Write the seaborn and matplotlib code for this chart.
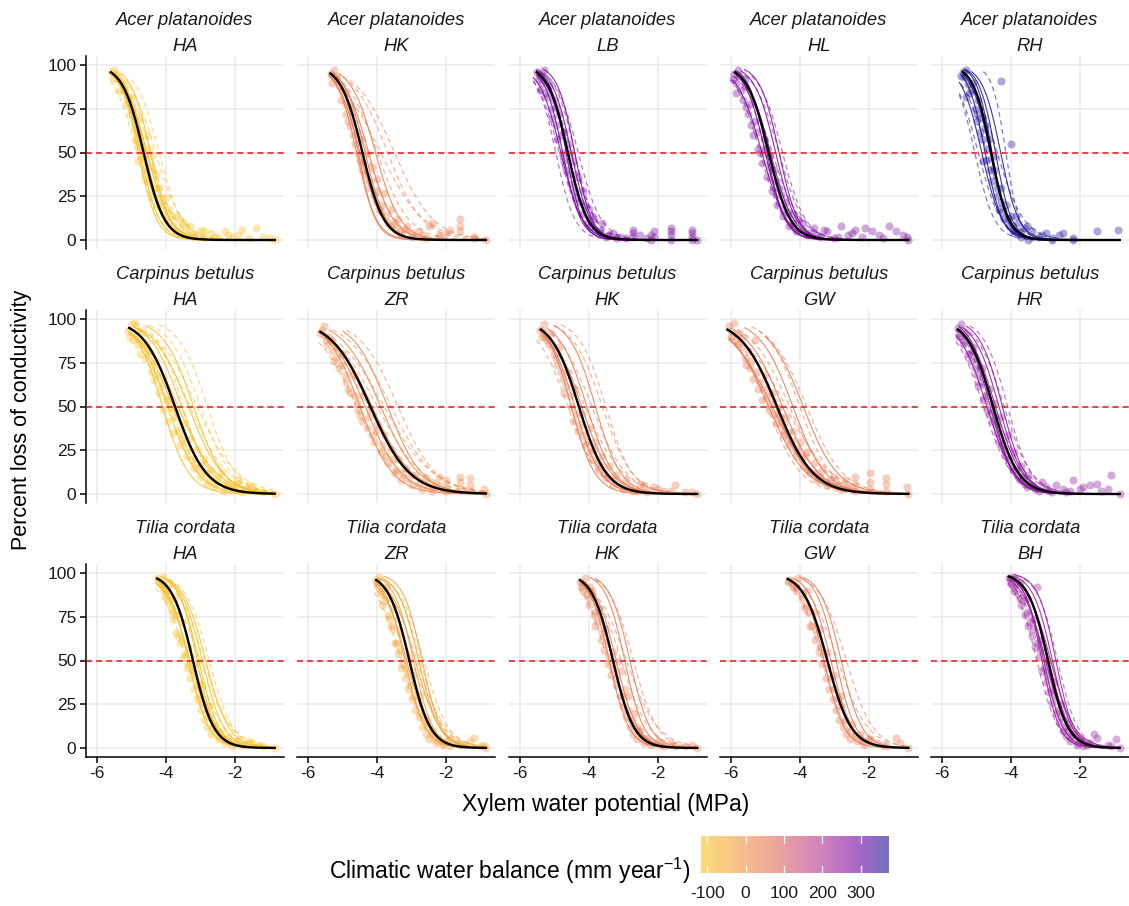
import numpy as np
import pandas as pd
import matplotlib
matplotlib.use("Agg")
import matplotlib.pyplot as plt
import seaborn as sns
from matplotlib.colors import LinearSegmentedColormap, Normalize, to_rgb

# ---------------- data ----------------
SPECIES = ["Acer platanoides"] * 5 + ["Carpinus betulus"] * 5 + ["Tilia cordata"] * 5
SITES = ["HA", "HK", "LB", "HL", "RH",
         "HA", "ZR", "HK", "GW", "HR",
         "HA", "ZR", "HK", "GW", "BH"]
CWB = [-100, 40, 285, 275, 370,
       -100, 20, 45, 50, 255,
       -100, -40, 45, 50, 235]

MEAN_P50 = [-4.65, -4.43, -4.60, -4.90, -4.58,
            -3.74, -4.20, -4.28, -4.66, -4.52,
            -3.22, -3.07, -3.29, -3.20, -2.93]
MEAN_SLOPE = [3.3, 3.2, 3.5, 3.2, 3.9,
              2.2, 1.75, 2.5, 1.9, 2.7,
              3.3, 3.3, 3.3, 2.9, 3.44]
MEAN_START = [-5.60, -5.36, -5.50, -5.88, -5.40,
              -5.07, -5.65, -5.38, -6.10, -5.54,
              -4.26, -4.03, -4.25, -4.35, -4.06]
X_END = -0.85

SOLID_P50 = [
    [-4.75, -4.6, -4.55, -4.7, -4.45, -4.8],
    [-4.6, -4.5, -4.35, -4.25, -4.05, -4.55],
    [-4.75, -4.6, -4.5, -4.8, -4.4, -4.65],
    [-5.0, -4.85, -4.7, -5.1, -4.6, -4.95],
    [-4.75, -4.6, -4.45, -4.3, -4.85, -4.55],
    [-3.95, -3.8, -3.55, -3.35, -4.1, -3.2, -3.65],
    [-4.35, -4.15, -3.9, -3.7, -4.5],
    [-4.4, -4.2, -4.05, -3.8, -4.5],
    [-4.9, -4.7, -4.5, -4.2, -3.9, -4.8],
    [-4.6, -4.45, -4.35, -4.7, -4.25, -4.55],
    [-3.35, -3.2, -3.05, -2.95, -3.3, -3.1, -2.85],
    [-3.2, -3.05, -2.95, -2.8, -3.15, -2.9, -2.7],
    [-3.4, -3.2, -2.95, -2.8, -3.3],
    [-3.3, -3.1, -2.95, -2.8, -3.2],
    [-3.05, -2.9, -2.8, -3.0, -2.7, -3.1, -2.85],
]
SOLID_SLOPE = [
    [3.6, 3.4, 3.0, 3.2, 3.5, 3.8],
    [3.5, 3.0, 3.3, 2.8, 2.8, 4.0],
    [3.8, 3.3, 3.6, 3.2, 4.0, 4.2],
    [3.4, 3.0, 3.3, 2.8, 3.6, 3.8],
    [4.0, 3.6, 4.2, 3.8, 3.4, 4.5],
    [2.3, 2.0, 2.2, 2.0, 2.6, 2.3, 1.8],
    [1.9, 1.7, 1.8, 2.0, 2.1],
    [2.6, 2.3, 2.5, 2.7, 2.9],
    [1.8, 2.0, 1.9, 2.1, 2.0, 1.6],
    [2.9, 2.6, 2.8, 2.5, 3.0, 3.2],
    [3.4, 3.0, 3.4, 3.2, 2.8, 3.7, 3.0],
    [3.4, 3.2, 3.5, 3.3, 2.9, 2.8, 3.6],
    [3.5, 3.2, 3.6, 3.4, 3.0],
    [3.4, 3.2, 3.5, 3.3, 2.9],
    [3.6, 3.3, 3.5, 3.0, 3.8, 3.9, 2.9],
]
SOLID_START = [
    [-5.55, -5.5, -5.45, -5.6, -5.3, -5.5],
    [-5.4, -5.35, -5.3, -5.2, -5.1, -5.3],
    [-5.5, -5.45, -5.4, -5.6, -5.3, -5.5],
    [-5.9, -5.8, -5.7, -5.95, -5.6, -5.85],
    [-5.45, -5.4, -5.3, -5.15, -5.5, -5.35],
    [-5.1, -5.0, -4.95, -4.8, -5.05, -4.6, -5.0],
    [-5.7, -5.6, -5.4, -5.0, -5.7],
    [-5.4, -5.3, -5.2, -5.0, -5.45],
    [-6.05, -5.95, -5.9, -5.6, -5.0, -6.05],
    [-5.55, -5.5, -5.4, -5.6, -5.3, -5.5],
    [-4.3, -4.2, -4.1, -4.0, -4.3, -4.15, -3.95],
    [-4.05, -4.0, -3.95, -3.85, -4.05, -4.0, -3.8],
    [-4.25, -4.15, -3.95, -3.8, -4.2],
    [-4.35, -4.2, -4.0, -3.9, -4.3],
    [-4.1, -4.05, -3.95, -4.1, -3.9, -4.1, -4.0],
]
DASH_P50 = [
    [-4.85, -4.45, -4.3, -4.55, -4.2],
    [-4.0, -3.7, -3.5, -4.3, -3.9],
    [-4.85, -4.4, -4.3, -4.95, -4.5],
    [-5.15, -4.6, -4.5, -4.8, -5.0],
    [-4.15, -4.95, -4.4, -4.7, -5.05],
    [-3.5, -3.0, -3.3, -2.8, -3.9, -3.1],
    [-4.0, -3.6, -4.6, -3.4, -3.8, -4.25],
    [-3.9, -4.6, -3.6, -4.1, -3.5],
    [-4.6, -4.3, -4.0, -4.95, -3.8, -4.4],
    [-4.8, -4.2, -4.5, -4.1, -4.65],
    [-3.4, -2.9, -3.15, -2.75, -3.0],
    [-3.3, -2.85, -2.65, -3.0, -2.75],
    [-3.05, -2.7, -3.45, -2.9],
    [-2.65, -3.35, -2.9],
    [-3.25, -2.65, -3.0],
]
DASH_SLOPE = [
    [3.0, 2.8, 2.6, 2.5, 3.0],
    [2.2, 2.0, 1.8, 2.5, 1.6],
    [3.0, 3.4, 3.0, 3.6, 2.8],
    [2.8, 2.8, 3.0, 2.4, 3.4],
    [5.0, 3.0, 2.6, 2.8, 3.5],
    [2.6, 2.2, 1.8, 2.4, 2.0, 1.7],
    [1.5, 1.6, 1.7, 1.8, 1.4, 1.6],
    [2.0, 2.2, 2.3, 1.8, 2.6],
    [1.7, 1.8, 2.2, 2.0, 1.9, 1.5],
    [2.4, 2.5, 2.1, 2.9, 2.9],
    [2.6, 2.6, 2.4, 2.9, 2.2],
    [2.6, 2.4, 2.8, 2.2, 3.0],
    [2.5, 2.9, 2.8, 2.2],
    [2.6, 2.8, 2.3],
    [3.2, 3.4, 2.6],
]
DASH_START = [
    [-5.6, -5.3, -5.2, -5.5, -5.0],
    [-5.2, -5.0, -4.8, -5.4, -5.1],
    [-5.6, -5.3, -5.2, -5.6, -5.5],
    [-6.0, -5.6, -5.4, -5.9, -5.9],
    [-4.8, -5.5, -5.4, -5.45, -5.5],
    [-4.9, -4.5, -4.8, -4.2, -5.1, -4.7],
    [-5.6, -5.3, -5.7, -4.9, -5.5, -5.65],
    [-5.3, -5.5, -5.0, -5.4, -4.8],
    [-6.0, -5.8, -5.4, -6.05, -5.2, -5.9],
    [-5.6, -5.4, -5.55, -5.2, -5.6],
    [-4.3, -4.1, -4.25, -3.9, -4.2],
    [-4.1, -4.0, -3.8, -4.05, -3.7],
    [-4.1, -3.8, -4.3, -4.05],
    [-3.9, -4.35, -4.1],
    [-4.1, -3.85, -4.1],
]

OBS_X = [
    [-5.6, -5.5, -5.4, -5.3, -5.35, -5.2, -5.15, -5.05, -5.0, -4.9, -4.85, -4.8, -4.75, -4.7, -4.6, -4.55, -4.5, -4.45, -4.4, -4.3, -4.25, -4.2, -4.1, -4.0, -3.95, -3.9, -3.8, -3.7, -3.6, -3.5, -3.4, -3.3, -3.2, -3.0, -2.9, -2.7, -2.5, -2.3, -2.1, -1.9, -1.6, -1.4, -1.0, -0.85],
    [-5.35, -5.25, -5.2, -5.1, -5.05, -4.95, -4.9, -4.8, -4.75, -4.65, -4.6, -4.5, -4.45, -4.35, -4.3, -4.2, -4.15, -4.05, -4.0, -3.9, -3.8, -3.7, -3.6, -3.5, -3.4, -3.3, -3.15, -3.0, -2.8, -2.6, -2.4, -2.2, -1.9, -1.6, -1.6, -1.2, -0.85],
    [-5.5, -5.4, -5.35, -5.3, -5.25, -5.15, -5.1, -5.0, -4.95, -4.9, -4.85, -4.75, -4.7, -4.65, -4.6, -4.5, -4.45, -4.35, -4.3, -4.2, -4.15, -4.0, -3.95, -3.85, -3.7, -3.6, -3.5, -3.3, -3.1, -2.9, -2.7, -2.5, -2.3, -2.1, -2.1, -1.6, -1.6, -1.6, -1.0, -1.0, -0.85],
    [-5.9, -5.85, -5.8, -5.7, -5.65, -5.6, -5.5, -5.45, -5.35, -5.3, -5.2, -5.1, -5.05, -4.95, -4.9, -4.8, -4.75, -4.65, -4.6, -4.5, -4.4, -4.3, -4.2, -4.1, -3.95, -3.8, -3.6, -3.4, -3.2, -3.0, -2.8, -2.6, -2.4, -2.2, -1.9, -1.6, -1.4, -1.0, -0.85],
    [-5.4, -5.35, -5.3, -5.25, -5.2, -5.1, -5.05, -5.0, -4.95, -4.85, -4.8, -4.75, -4.7, -4.6, -4.55, -4.5, -4.4, -4.35, -4.3, -4.2, -4.15, -4.05, -4.0, -3.9, -3.8, -3.7, -3.6, -3.5, -3.4, -3.2, -3.0, -2.8, -2.6, -2.2, -1.5, -0.9, -4.3, -4.0],
    [-5.1, -5.0, -4.95, -4.9, -4.8, -4.7, -4.6, -4.5, -4.45, -4.35, -4.3, -4.2, -4.1, -4.05, -3.95, -3.9, -3.8, -3.7, -3.6, -3.5, -3.4, -3.3, -3.2, -3.1, -3.0, -2.9, -2.8, -2.7, -2.6, -2.5, -2.35, -2.2, -2.05, -1.9, -1.8, -1.6, -1.4, -0.85],
    [-5.65, -5.55, -5.5, -5.4, -5.3, -5.25, -5.1, -5.0, -4.9, -4.8, -4.7, -4.6, -4.5, -4.4, -4.3, -4.2, -4.1, -4.0, -3.9, -3.8, -3.7, -3.6, -3.5, -3.4, -3.3, -3.2, -3.0, -2.9, -2.7, -2.6, -2.4, -2.3, -2.0, -2.0, -1.6, -1.6, -1.3, -1.3, -0.85],
    [-5.4, -5.3, -5.25, -5.15, -5.1, -5.0, -4.9, -4.85, -4.75, -4.7, -4.6, -4.5, -4.45, -4.4, -4.3, -4.2, -4.1, -4.0, -3.9, -3.8, -3.7, -3.6, -3.5, -3.4, -3.3, -3.2, -3.0, -2.9, -2.7, -2.5, -2.3, -2.1, -1.8, -1.5, -1.2, -0.85],
    [-6.05, -6.0, -5.9, -5.85, -5.75, -5.7, -5.6, -5.5, -5.45, -5.35, -5.3, -5.2, -5.1, -5.0, -4.9, -4.8, -4.7, -4.6, -4.5, -4.4, -4.3, -4.2, -4.1, -4.0, -3.9, -3.8, -3.7, -3.6, -3.5, -3.35, -3.2, -3.0, -2.8, -2.7, -2.4, -2.4, -2.4, -1.95, -1.95, -1.95, -1.5, -1.5, -1.5, -0.9, -0.85],
    [-5.55, -5.5, -5.45, -5.4, -5.3, -5.25, -5.15, -5.1, -5.0, -4.95, -4.85, -4.8, -4.7, -4.65, -4.55, -4.5, -4.4, -4.3, -4.25, -4.15, -4.1, -4.0, -3.9, -3.8, -3.7, -3.6, -3.5, -3.3, -3.1, -2.9, -2.7, -2.4, -2.2, -2.0, -1.7, -1.4, -1.1, -0.85],
    [-4.25, -4.15, -4.1, -4.05, -4.0, -3.95, -3.85, -3.8, -3.75, -3.7, -3.6, -3.55, -3.5, -3.4, -3.35, -3.3, -3.2, -3.15, -3.1, -3.0, -2.95, -2.9, -2.8, -2.75, -2.7, -2.6, -2.5, -2.4, -2.3, -2.2, -2.1, -1.9, -1.7, -1.5, -1.2, -0.85],
    [-4.05, -4.0, -3.95, -3.9, -3.8, -3.75, -3.7, -3.6, -3.55, -3.5, -3.4, -3.35, -3.3, -3.2, -3.15, -3.1, -3.0, -2.95, -2.9, -2.8, -2.75, -2.7, -2.6, -2.55, -2.5, -2.4, -2.3, -2.2, -2.1, -2.0, -1.9, -1.7, -1.5, -1.2, -0.9, -0.85],
    [-4.25, -4.2, -4.1, -4.05, -4.0, -3.9, -3.85, -3.8, -3.7, -3.65, -3.55, -3.5, -3.45, -3.35, -3.3, -3.2, -3.1, -3.05, -3.0, -2.9, -2.85, -2.8, -2.7, -2.65, -2.6, -2.5, -2.4, -2.3, -2.2, -2.0, -1.8, -1.6, -1.2, -0.85],
    [-4.3, -4.2, -4.1, -4.05, -3.95, -3.85, -3.8, -3.7, -3.6, -3.55, -3.45, -3.4, -3.35, -3.25, -3.2, -3.15, -3.05, -3.0, -2.95, -2.85, -2.8, -2.75, -2.65, -2.55, -2.5, -2.35, -2.25, -2.15, -1.95, -1.75, -1.5, -1.2, -0.85],
    [-4.05, -4.0, -3.95, -3.9, -3.8, -3.75, -3.7, -3.6, -3.55, -3.5, -3.4, -3.35, -3.3, -3.2, -3.15, -3.1, -3.0, -2.95, -2.9, -2.8, -2.75, -2.7, -2.6, -2.55, -2.5, -2.4, -2.35, -2.3, -2.2, -2.1, -2.0, -1.9, -1.7, -1.5, -1.2, -0.95, -0.85, -3.25],
]
OBS_Y = [
    [96, 97, 94, 91, 85, 88, 78, 72, 82, 64, 55, 45, 70, 52, 40, 60, 33, 48, 26, 38, 20, 30, 15, 24, 10, 18, 8, 14, 5, 10, 3, 8, 2, 6, 1, 4, 2, 5, 2, 3, 1, 7, 1, 0],
    [95, 97, 92, 88, 80, 84, 72, 65, 76, 55, 62, 45, 58, 38, 50, 30, 42, 22, 35, 16, 27, 10, 18, 6, 12, 3, 8, 2, 5, 1, 10, 3, 6, 12, 8, 2, 0],
    [96, 94, 90, 97, 84, 88, 75, 80, 66, 58, 72, 50, 62, 40, 55, 32, 45, 24, 36, 15, 28, 18, 8, 12, 5, 10, 2, 4, 2, 1, 6, 3, 1, 5, 2, 7, 3, 0, 6, 2, 0],
    [95, 90, 97, 86, 80, 92, 72, 78, 60, 68, 52, 44, 58, 36, 48, 28, 40, 20, 30, 14, 22, 8, 15, 5, 10, 3, 7, 2, 5, 1, 8, 3, 6, 2, 5, 1, 8, 3, 0],
    [96, 93, 97, 89, 84, 90, 75, 68, 80, 58, 45, 64, 52, 40, 34, 48, 25, 18, 30, 12, 20, 8, 14, 4, 10, 2, 7, 0, 5, 2, 4, 0, 3, 1, 5, 6, 91, 55],
    [93, 97, 88, 98, 85, 92, 78, 82, 70, 65, 76, 58, 48, 66, 42, 55, 35, 48, 28, 40, 22, 32, 15, 26, 10, 20, 6, 14, 4, 10, 2, 7, 3, 8, 1, 5, 2, 0],
    [92, 96, 88, 90, 82, 76, 72, 80, 64, 58, 68, 52, 45, 56, 38, 48, 30, 40, 24, 34, 18, 26, 12, 20, 8, 15, 5, 11, 3, 9, 2, 6, 4, 8, 3, 7, 5, 2, 0],
    [94, 97, 90, 86, 92, 80, 74, 84, 66, 58, 70, 50, 42, 60, 36, 46, 28, 38, 20, 30, 14, 22, 9, 16, 5, 11, 3, 8, 2, 6, 1, 4, 2, 5, 1, 0],
    [96, 90, 98, 88, 92, 84, 78, 82, 72, 66, 88, 60, 54, 68, 48, 58, 40, 50, 34, 44, 28, 36, 22, 30, 16, 24, 12, 18, 8, 14, 5, 10, 3, 8, 2, 6, 10, 3, 7, 12, 2, 6, 9, 4, 0],
    [95, 90, 97, 86, 92, 80, 76, 84, 68, 62, 72, 54, 48, 60, 42, 52, 35, 44, 28, 22, 34, 16, 24, 10, 16, 6, 11, 3, 7, 2, 5, 1, 8, 3, 5, 2, 11, 0],
    [97, 94, 98, 90, 85, 93, 80, 74, 86, 66, 60, 72, 52, 46, 58, 40, 34, 48, 28, 22, 36, 16, 12, 24, 8, 14, 5, 9, 3, 6, 1, 4, 2, 3, 1, 0],
    [96, 93, 98, 88, 84, 92, 76, 70, 80, 60, 54, 66, 46, 40, 52, 34, 28, 42, 22, 18, 30, 12, 8, 16, 5, 10, 3, 6, 2, 4, 1, 3, 2, 6, 2, 0],
    [95, 92, 97, 88, 82, 90, 76, 70, 80, 62, 56, 68, 48, 42, 55, 36, 30, 44, 24, 18, 30, 12, 8, 20, 5, 10, 3, 6, 2, 4, 1, 3, 1, 0],
    [96, 94, 92, 97, 86, 80, 90, 70, 78, 62, 55, 68, 48, 40, 55, 34, 28, 42, 22, 16, 30, 12, 8, 5, 14, 4, 8, 2, 5, 3, 1, 6, 0],
    [97, 94, 98, 92, 88, 95, 82, 76, 86, 70, 64, 74, 58, 52, 62, 44, 38, 50, 32, 26, 38, 20, 15, 25, 10, 7, 14, 4, 8, 2, 5, 1, 3, 6, 2, 5, 0, 92],
]
OBS_X_EXTRA = [
    [-5.55, -5.45, -5.25, -5.1, -4.95, -4.9, -4.8, -4.65, -4.6, -4.5, -4.4, -4.35, -4.2, -4.1, -4.0, -3.85, -3.75, -3.6, -3.45, -3.3, -3.1, -2.9, -2.6, -2.2, -1.8, -1.2],
    [-5.3, -5.2, -5.0, -4.9, -4.85, -4.7, -4.55, -4.45, -4.4, -4.25, -4.1, -4.0, -3.95, -3.85, -3.75, -3.6, -3.5, -3.35, -3.2, -3.0, -2.7, -2.5, -2.2, -2.0, -1.6, -1.2],
    [-5.45, -5.4, -5.2, -5.05, -4.95, -4.8, -4.7, -4.55, -4.5, -4.4, -4.25, -4.1, -4.05, -3.9, -3.8, -3.65, -3.4, -3.2, -2.7, -2.7, -2.2, -2.2, -1.6, -1.0, -1.0],
    [-5.95, -5.85, -5.75, -5.6, -5.55, -5.4, -5.25, -5.15, -5.0, -4.85, -4.7, -4.55, -4.45, -4.35, -4.2, -4.05, -3.9, -3.7, -3.5, -3.3, -2.9, -2.5, -2.1, -1.7, -1.2, -0.9],
    [-5.45, -5.3, -5.15, -5.0, -4.9, -4.85, -4.7, -4.65, -4.5, -4.4, -4.3, -4.25, -4.1, -3.95, -3.85, -3.7, -3.55, -3.4, -3.1, -2.8, -2.5, -2.2],
    [-5.05, -4.85, -4.75, -4.55, -4.4, -4.25, -4.15, -4.0, -3.85, -3.75, -3.65, -3.55, -3.45, -3.35, -3.25, -3.15, -3.05, -2.95, -2.85, -2.75, -2.55, -2.4, -2.3, -2.1, -1.95, -1.7, -1.5, -1.2],
    [-5.6, -5.45, -5.35, -5.2, -5.05, -4.95, -4.85, -4.65, -4.55, -4.45, -4.25, -4.15, -4.05, -3.85, -3.75, -3.55, -3.45, -3.25, -3.1, -2.8, -2.5, -2.2, -2.0, -1.6, -1.3, -0.9],
    [-5.35, -5.2, -5.05, -4.95, -4.8, -4.65, -4.55, -4.35, -4.25, -4.15, -4.05, -3.95, -3.85, -3.75, -3.65, -3.55, -3.45, -3.25, -3.1, -2.8, -2.6, -2.4, -2.0, -1.6, -1.0],
    [-6.0, -5.8, -5.65, -5.55, -5.4, -5.25, -5.15, -5.05, -4.95, -4.85, -4.75, -4.65, -4.55, -4.45, -4.35, -4.25, -4.15, -4.05, -3.95, -3.85, -3.75, -3.55, -3.4, -3.1, -2.9, -2.6],
    [-5.5, -5.35, -5.2, -5.05, -4.9, -4.75, -4.6, -4.45, -4.35, -4.2, -4.05, -3.95, -3.85, -3.75, -3.65, -3.55, -3.4, -3.2, -3.0, -2.8, -2.5, -2.3, -1.9, -1.5, -1.2],
    [-4.2, -4.1, -4.0, -3.9, -3.8, -3.7, -3.65, -3.55, -3.45, -3.35, -3.25, -3.1, -3.05, -2.95, -2.85, -2.75, -2.65, -2.55, -2.45, -2.35, -2.2, -2.0, -1.8, -1.6, -1.3],
    [-4.0, -3.9, -3.85, -3.7, -3.65, -3.55, -3.45, -3.35, -3.25, -3.15, -3.05, -2.95, -2.85, -2.75, -2.65, -2.55, -2.45, -2.35, -2.25, -2.1, -1.9, -1.6, -1.3, -1.0],
    [-4.2, -4.15, -4.0, -3.95, -3.8, -3.75, -3.6, -3.5, -3.4, -3.3, -3.2, -3.15, -3.0, -2.95, -2.85, -2.75, -2.6, -2.55, -2.45, -2.3, -2.1, -1.9, -1.5, -1.0],
    [-4.35, -4.2, -4.1, -3.95, -3.85, -3.75, -3.65, -3.5, -3.4, -3.3, -3.2, -3.1, -3.0, -2.9, -2.8, -2.7, -2.55, -2.4, -2.2, -2.0, -1.6, -1.1],
    [-4.0, -3.9, -3.85, -3.75, -3.65, -3.55, -3.45, -3.35, -3.25, -3.15, -3.05, -2.95, -2.85, -2.75, -2.65, -2.55, -2.45, -2.35, -2.25, -2.05, -1.8, -1.6, -1.1],
]
OBS_Y_EXTRA = [
    [92, 95, 86, 80, 75, 58, 62, 48, 35, 52, 42, 30, 24, 20, 12, 14, 6, 12, 8, 4, 3, 5, 2, 3, 6, 2],
    [90, 94, 86, 78, 68, 60, 50, 40, 44, 34, 26, 28, 18, 20, 14, 8, 10, 5, 6, 4, 3, 8, 2, 4, 5, 1],
    [92, 86, 82, 70, 76, 60, 45, 50, 38, 28, 22, 20, 10, 14, 6, 4, 3, 1, 2, 4, 3, 0, 5, 4, 0],
    [92, 84, 94, 88, 76, 66, 62, 50, 52, 42, 34, 26, 18, 16, 10, 12, 6, 4, 3, 6, 2, 4, 7, 3, 5, 2],
    [94, 82, 86, 72, 62, 70, 46, 58, 40, 30, 22, 16, 12, 6, 14, 5, 8, 2, 3, 1, 4, 0],
    [90, 94, 80, 86, 74, 68, 62, 54, 50, 44, 36, 32, 30, 26, 20, 18, 14, 16, 12, 8, 6, 12, 5, 4, 6, 3, 4, 1],
    [94, 85, 88, 78, 74, 68, 60, 56, 48, 42, 44, 34, 36, 28, 22, 20, 14, 12, 9, 6, 4, 10, 2, 10, 9, 3],
    [90, 88, 84, 78, 70, 62, 56, 46, 40, 34, 30, 24, 26, 18, 16, 12, 10, 8, 5, 4, 2, 5, 3, 2, 1],
    [93, 86, 90, 74, 76, 70, 64, 60, 56, 52, 46, 44, 40, 36, 32, 30, 26, 24, 20, 22, 14, 12, 10, 8, 5, 4],
    [92, 88, 80, 72, 64, 56, 46, 40, 30, 26, 20, 14, 14, 8, 10, 4, 5, 2, 4, 1, 3, 2, 4, 6, 3],
    [95, 92, 88, 84, 78, 76, 64, 62, 54, 48, 44, 36, 30, 26, 20, 18, 12, 10, 7, 5, 4, 3, 2, 4, 2],
    [95, 90, 82, 86, 74, 68, 60, 56, 48, 44, 36, 30, 26, 20, 16, 12, 8, 6, 4, 3, 5, 2, 4, 1],
    [94, 90, 86, 92, 78, 72, 66, 60, 52, 46, 40, 50, 30, 34, 22, 16, 12, 10, 6, 4, 3, 2, 1, 2],
    [95, 92, 90, 88, 82, 78, 70, 66, 58, 54, 46, 40, 34, 28, 24, 16, 10, 7, 4, 5, 2, 3],
    [96, 90, 94, 86, 84, 78, 72, 68, 60, 56, 46, 42, 34, 30, 22, 18, 12, 10, 6, 3, 2, 8, 1],
]

# colour scale (value -> colour)
CMAP_VALUES = [-116, 0, 100, 200, 300, 374]
CMAP_COLORS = ["#F8C51E", "#F38E43", "#D96161", "#AF2F96", "#6E00A3", "#171196"]
CB_TICKS = [-100, 0, 100, 200, 300]

# ---------------- helpers ----------------
vmin, vmax = CMAP_VALUES[0], CMAP_VALUES[-1]
cmap = LinearSegmentedColormap.from_list(
    "cwb", [((v - vmin) / (vmax - vmin), c) for v, c in zip(CMAP_VALUES, CMAP_COLORS)])
norm = Normalize(vmin, vmax)


def plc(x, p50, a):
    return 100.0 / (1.0 + np.exp(a * (x - p50)))


def curve_frame(p50s, slopes, starts):
    rows = []
    for k, (p, a, s) in enumerate(zip(p50s, slopes, starts)):
        xs = np.linspace(s, X_END, 120)
        rows.append(pd.DataFrame({"curve": k, "x": xs, "y": plc(xs, p, a)}))
    return pd.concat(rows, ignore_index=True)


W, H = 1129, 906
fig = plt.figure(figsize=(W / 100, H / 100), dpi=100)
FONT = "Liberation Sans"
plt.rcParams["font.family"] = FONT
plt.rcParams["mathtext.fontset"] = "custom"
plt.rcParams["mathtext.rm"] = FONT


def px_axes(left, top, width, height):
    return fig.add_axes([left / W, 1 - (top + height) / H, width / W, height / H])


LEFTS = [86 + 211.25 * c for c in range(5)]
TOPS = [56.25, 310.25, 564.25]
PW, PH = 198, 192.5

for i in range(15):
    r, c = divmod(i, 5)
    ax = px_axes(LEFTS[c], TOPS[r], PW, PH)
    col = cmap(norm(CWB[i]))

    obs = pd.DataFrame({"x": OBS_X[i] + OBS_X_EXTRA[i], "y": OBS_Y[i] + OBS_Y_EXTRA[i]})
    sns.scatterplot(data=obs, x="x", y="y", color=col, alpha=0.36, s=34,
                    linewidth=0, ax=ax, zorder=2)

    dsh = curve_frame(DASH_P50[i], DASH_SLOPE[i], DASH_START[i])
    sns.lineplot(data=dsh, x="x", y="y", units="curve", estimator=None,
                 color=col, alpha=0.55, lw=0.9, linestyle=(0, (4, 3)), ax=ax, zorder=3)
    sol = curve_frame(SOLID_P50[i], SOLID_SLOPE[i], SOLID_START[i])
    sns.lineplot(data=sol, x="x", y="y", units="curve", estimator=None,
                 color=col, alpha=0.85, lw=0.8, ax=ax, zorder=3)

    ax.axhline(50, color="#E8141C", lw=1.1, linestyle=(0, (4, 2.6)), zorder=4)

    mean = curve_frame([MEAN_P50[i]], [MEAN_SLOPE[i]], [MEAN_START[i]])
    sns.lineplot(data=mean, x="x", y="y", color="black", lw=1.7, ax=ax, zorder=5)

    ax.set_xlim(-6.32, -0.58)
    ax.set_ylim(-5, 105)
    ax.set_xticks([-6, -4, -2])
    ax.set_yticks([0, 25, 50, 75, 100])
    ax.grid(True, color="#EBEBEB", lw=1.1, zorder=0)
    ax.set_axisbelow(True)
    ax.set_xlabel("")
    ax.set_ylabel("")
    for sp in ax.spines.values():
        sp.set_visible(False)
    ax.tick_params(length=0, labelbottom=False, labelleft=False)
    if c == 0:
        ax.spines["left"].set_visible(True)
        ax.spines["left"].set_linewidth(1.1)
        ax.tick_params(axis="y", length=4, width=1.1, labelleft=True,
                       labelsize=12.5, labelcolor="#1a1a1a", pad=3)
    if r == 2:
        ax.spines["bottom"].set_visible(True)
        ax.spines["bottom"].set_linewidth(1.1)
        ax.tick_params(axis="x", length=4, width=1.1, labelbottom=True,
                       labelsize=12.5, labelcolor="#1a1a1a", pad=3)
        ax.set_xticklabels(["-6", "-4", "-2"])

    cx = (LEFTS[c] + PW / 2) / W
    fig.text(cx, 1 - (TOPS[r] - 36) / H, SPECIES[i], ha="center", va="center",
             fontsize=13.2, style="italic", color="#1a1a1a")
    fig.text(cx, 1 - (TOPS[r] - 10) / H, SITES[i], ha="center", va="center",
             fontsize=13.2, style="italic", color="#1a1a1a")

fig.text(22 / W, 1 - 420 / H, "Percent loss of conductivity", rotation=90,
         ha="center", va="center", fontsize=15.5)
fig.text(606 / W, 1 - 805 / H, "Xylem water potential (MPa)",
         ha="center", va="center", fontsize=16.5)

# ---------------- colour bar legend ----------------
cax = px_axes(701, 836, 188, 37)
grad = np.linspace(vmin, vmax, 256)
light = [tuple(0.6 * np.array(to_rgb(cmap(norm(v)))) + 0.4) for v in grad]
light_cmap = LinearSegmentedColormap.from_list("light", light)
cax.imshow(grad[None, :], aspect="auto", cmap=light_cmap,
           extent=[vmin, vmax, 0, 1], origin="lower")
for t in CB_TICKS:
    cax.plot([t, t], [0, 0.2], color="white", lw=0.9)
    cax.plot([t, t], [0.8, 1], color="white", lw=0.9)
cax.set_xlim(vmin, vmax)
cax.set_ylim(0, 1)
cax.set_yticks([])
cax.set_xticks(CB_TICKS)
cax.set_xticklabels([str(t) for t in CB_TICKS])
cax.tick_params(axis="x", length=0, labelsize=12.5, pad=9, labelcolor="#1a1a1a")
for sp in cax.spines.values():
    sp.set_visible(False)

fig.text(690 / W, 1 - 871 / H, r"Climatic water balance $(\mathrm{mm\ year}^{-1})$",
         ha="right", va="center", fontsize=16.5)

fig.savefig("out.png", dpi=100)
